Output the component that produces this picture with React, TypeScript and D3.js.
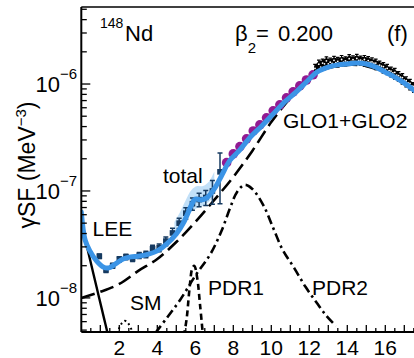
import React from 'react';
import * as d3 from 'd3';

// ---------- data ----------
// total model (blue)
const totalE = [0, 0.2, 0.45, 0.8, 1.15, 1.45, 1.8, 2.2, 2.6, 3.0, 3.5, 4.0, 4.5, 5.0, 5.4, 5.8, 6.0, 6.3, 6.6, 7.0, 7.4, 7.8, 8.3, 8.9, 9.5, 10.1, 10.7, 11.3, 11.9, 12.4, 13.0, 13.5, 14.0, 14.5, 15.0, 15.5, 16.0, 16.5, 17.0, 17.5, 18.0];
const totalV = [6.37e-8, 3.48e-8, 2.75e-8, 2.22e-8, 1.95e-8, 1.91e-8, 2.08e-8, 2.31e-8, 2.42e-8, 2.45e-8, 2.55e-8, 2.75e-8, 3.2e-8, 3.96e-8, 5.13e-8, 7.4e-8, 8.41e-8, 8.24e-8, 8.61e-8, 1.045e-7, 1.41e-7, 1.91e-7, 2.37e-7, 3.2e-7, 4.05e-7, 5.25e-7, 6.79e-7, 8.41e-7, 1.067e-6, 1.294e-6, 1.44e-6, 1.51e-6, 1.54e-6, 1.57e-6, 1.54e-6, 1.44e-6, 1.29e-6, 1.16e-6, 1.02e-6, 8.8e-7, 7.4e-7];

// GLO1+GLO2 (long dash)
const gloE = [0, 1, 2, 3, 4, 5, 6, 7, 8, 9, 10, 11, 12, 13, 14, 15, 16, 17, 18];
const gloV = [1.0e-8, 1.14e-8, 1.35e-8, 1.79e-8, 2.31e-8, 3.33e-8, 5.13e-8, 8.24e-8, 1.35e-7, 2.37e-7, 4.41e-7, 7.4e-7, 1.14e-6, 1.41e-6, 1.51e-6, 1.47e-6, 1.27e-6, 1.0e-6, 7.4e-7];

// LEE (solid)
const leeE = [0, 0.4, 0.8, 1.2, 1.4];
const leeV = [5.02e-8, 2.53e-8, 1.27e-8, 6.4e-9, 4.54e-9];

// PDR1 (short dash)
const pdr1E = [5.4, 5.55, 5.7, 5.85, 5.95, 6.1, 6.25, 6.4];
const pdr1V = [4.4e-9, 6.5e-9, 1.24e-8, 1.91e-8, 1.99e-8, 1.54e-8, 8.6e-9, 4.5e-9];

// PDR2 (dash-dot)
const pdr2E = [3.9, 4.5, 5.2, 6.0, 6.8, 7.4, 7.85, 8.2, 8.6, 9.0, 9.6, 10.1, 10.6, 11.2, 11.8, 12.4, 12.9, 13.4];
const pdr2V = [4.7e-9, 6.5e-9, 9.57e-9, 1.61e-8, 2.58e-8, 4.32e-8, 7.08e-8, 9.8e-8, 1.14e-7, 1.045e-7, 7.24e-8, 4.51e-8, 2.81e-8, 1.91e-8, 1.27e-8, 8.97e-9, 6.79e-9, 5.47e-9];

// SM (dotted)
const smE = [1.9, 2.0, 2.15, 2.3, 2.45, 2.6, 2.75];
const smV = [4.6e-9, 5.25e-9, 5.84e-9, 6.1e-9, 5.84e-9, 5.25e-9, 4.6e-9];

// Oslo data (squares)
const osloE = [0.95, 1.3, 1.65, 2.0, 2.35, 2.7, 3.05, 3.4, 3.75, 4.1, 4.45, 4.8, 5.15, 5.5, 5.85, 6.2, 6.55, 6.9, 7.3];
const osloV = [2.45e-8, 1.83e-8, 2.0e-8, 2.3e-8, 2.42e-8, 2.33e-8, 2.5e-8, 2.55e-8, 2.88e-8, 2.95e-8, 3.4e-8, 4.05e-8, 5.0e-8, 6.2e-8, 7.6e-8, 8.3e-8, 8.7e-8, 1.0e-7, 1.51e-7];
const osloErr = [1.2e-9, 1.0e-9, 1.1e-9, 1.3e-9, 1.4e-9, 1.4e-9, 1.6e-9, 1.8e-9, 2.2e-9, 2.5e-9, 3.2e-9, 4.2e-9, 5.5e-9, 7.5e-9, 1.0e-8, 1.2e-8, 1.4e-8, 2.5e-8, 7.5e-8];

// Oslo uncertainty band
const bandE = [4.9, 5.2, 5.5, 5.8, 6.1, 6.4, 6.7, 7.0];
const bandLo = [3.64e-8, 4.32e-8, 5.36e-8, 6.37e-8, 6.94e-8, 7.24e-8, 7.89e-8, 8.97e-8];
const bandHi = [5.13e-8, 6.37e-8, 8.24e-8, 1.02e-7, 1.11e-7, 1.11e-7, 1.21e-7, 1.51e-7];

// purple circles
const purpleE = [7.65, 8.0, 8.35, 8.7, 9.05, 9.4, 9.75, 10.1, 10.45, 10.8, 11.15, 11.5, 11.85, 12.2];
const purpleV = [1.84e-7, 2.22e-7, 2.6e-7, 3.07e-7, 3.64e-7, 4.15e-7, 4.83e-7, 5.62e-7, 6.39e-7, 7.43e-7, 8.45e-7, 9.6e-7, 1.09e-6, 1.22e-6];

// photo-absorption data (black, dense)
const gdrE = [12.3, 12.5, 12.7, 12.9, 13.1, 13.3, 13.5, 13.7, 13.9, 14.1, 14.3, 14.5, 14.7, 14.9, 15.1, 15.3, 15.5, 15.7, 15.9, 16.1, 16.3, 16.5, 16.7, 16.9, 17.1, 17.3, 17.5, 17.7, 17.9];
const gdrV = [1.37e-6, 1.49e-6, 1.56e-6, 1.6e-6, 1.58e-6, 1.63e-6, 1.6e-6, 1.65e-6, 1.63e-6, 1.68e-6, 1.66e-6, 1.7e-6, 1.66e-6, 1.65e-6, 1.63e-6, 1.59e-6, 1.53e-6, 1.49e-6, 1.42e-6, 1.37e-6, 1.3e-6, 1.25e-6, 1.18e-6, 1.12e-6, 1.05e-6, 9.9e-7, 9.3e-7, 8.7e-7, 8.2e-7];
const gdrErr = [9e-8, 1.1e-7, 8e-8, 1.2e-7, 9e-8, 1.1e-7, 1.0e-7, 1.2e-7, 9e-8, 1.2e-7, 1.0e-7, 1.1e-7, 9e-8, 1.2e-7, 1.0e-7, 9e-8, 1.1e-7, 8e-8, 1.0e-7, 9e-8, 8e-8, 9e-8, 7e-8, 8e-8, 7e-8, 7e-8, 6e-8, 7e-8, 6e-8];

const xTicks = [2, 4, 6, 8, 10, 12, 14, 16];
const yDecades = [-8, -7, -6];

const FONT = 'Liberation Sans, Arial, Helvetica, sans-serif';

export default function App() {
  const L = 81.3, R = 414, T = 7, B = 332;
  const x = d3.scaleLinear().domain([0, 18]).range([81.3, 423.3]);
  const y = d3.scaleLog().domain([4.8e-9, 5.25e-6]).range([332, 7]);

  const zip = (a: number[], b: number[]) => a.map((v, i) => [v, b[i]] as [number, number]);
  const line = d3.line<[number, number]>().x(d => x(d[0])).y(d => y(d[1])).curve(d3.curveCatmullRom.alpha(0.5));
  const area = d3.area<number>()
    .x(i => x(bandE[i]))
    .y0(i => y(bandLo[i]))
    .y1(i => y(bandHi[i]))
    .curve(d3.curveCatmullRom.alpha(0.5));
  const gdrArea = d3.area<number>()
    .x(i => x(gdrE[i]))
    .y0(i => y(gdrV[i] - gdrErr[i]))
    .y1(i => y(gdrV[i] + gdrErr[i]))
    .curve(d3.curveLinear);

  const xMinor = d3.range(0.5, 18, 0.5);
  const yTicks: { v: number; major: boolean }[] = [];
  for (let k = -9; k <= -5; k++) {
    for (let m = 1; m <= 9; m++) {
      const v = m * Math.pow(10, k);
      if (v >= 4.8e-9 && v <= 5.25e-6) yTicks.push({ v, major: m === 1 });
    }
  }

  const blue = '#3b94e6';
  const navy = '#163a60';
  const purple = '#921a92';

  return (
    <div style={{ position: 'absolute', left: 0, top: 0 }}>
      <svg width={414} height={358} style={{ display: 'block', background: '#fff' }} fontFamily={FONT}>
        <defs>
          <clipPath id="plotclip">
            <rect x={L} y={T} width={R - L} height={B - T} />
          </clipPath>
        </defs>
        <g clipPath="url(#plotclip)">
          {/* band */}
          <path d={area(d3.range(bandE.length)) || ''} fill="#b3d8f6" opacity={0.8} />
          {/* models */}
          <path d={line(zip(gloE, gloV)) || ''} fill="none" stroke="#000" strokeWidth={2.6} strokeDasharray="14,6" />
          <path d={line(zip(leeE, leeV)) || ''} fill="none" stroke="#000" strokeWidth={2.4} />
          <path d={line(zip(pdr1E, pdr1V)) || ''} fill="none" stroke="#000" strokeWidth={2.6} strokeDasharray="6,4" />
          <path d={line(zip(pdr2E, pdr2V)) || ''} fill="none" stroke="#000" strokeWidth={2.6} strokeDasharray="9,4,2.5,4" />
          <path d={line(zip(smE, smV)) || ''} fill="none" stroke="#000" strokeWidth={2} strokeDasharray="2,3" />
          {/* oslo data */}
          {osloE.map((e, i) => {
            const cx = x(e);
            const y1 = y(osloV[i] + osloErr[i]);
            const y0 = y(Math.max(osloV[i] - osloErr[i], 1e-12));
            return (
              <g key={'o' + i}>
                <line x1={cx} x2={cx} y1={y0} y2={y1} stroke={navy} strokeWidth={1.5} />
                <line x1={cx - 2.5} x2={cx + 2.5} y1={y0} y2={y0} stroke={navy} strokeWidth={1.5} />
                <line x1={cx - 2.5} x2={cx + 2.5} y1={y1} y2={y1} stroke={navy} strokeWidth={1.5} />
                <rect x={cx - 2.8} y={y(osloV[i]) - 2.8} width={5.6} height={5.6} fill={navy} />
              </g>
            );
          })}
          {/* purple circles */}
          {purpleE.map((e, i) => (
            <circle key={'p' + i} cx={x(e)} cy={y(purpleV[i])} r={4.8} fill={purple} />
          ))}
          {/* photo-absorption data */}
          <path d={gdrArea(d3.range(gdrE.length)) || ''} fill="#000" stroke="#000" strokeWidth={1.6} strokeLinejoin="miter" />
          {gdrE.map((e, i) => {
            const cx = x(e);
            const y1 = y(gdrV[i] + gdrErr[i]);
            const y0 = y(gdrV[i] - gdrErr[i]);
            return (
              <g key={'g' + i}>
                <line x1={cx} x2={cx} y1={y0 + 2} y2={y1 - 2} stroke="#000" strokeWidth={1.2} />
                <line x1={cx - 1.8} x2={cx + 1.8} y1={y1 - 2} y2={y1 - 2} stroke="#000" strokeWidth={1.2} />
                <line x1={cx - 1.8} x2={cx + 1.8} y1={y0 + 2} y2={y0 + 2} stroke="#000" strokeWidth={1.2} />
                <circle cx={cx} cy={y1 + 2} r={0.9} fill="#fff" />
                <circle cx={cx + 1.9} cy={y0 - 2} r={0.9} fill="#fff" />
              </g>
            );
          })}
          {/* total */}
          <path d={line(zip(totalE, totalV)) || ''} fill="none" stroke={blue} strokeWidth={5} strokeLinejoin="round" strokeLinecap="round" />
        </g>

        {/* frame */}
        <line x1={L} x2={L} y1={T} y2={B} stroke="#000" strokeWidth={2} />
        <line x1={L} x2={R} y1={B} y2={B} stroke="#000" strokeWidth={2.2} />
        <line x1={L} x2={R} y1={T} y2={T} stroke="#000" strokeWidth={1.6} />

        {/* x ticks */}
        {xMinor.map((t, i) => {
          const major = Math.abs(t - Math.round(t)) < 1e-6;
          return <line key={'xt' + i} x1={x(t)} x2={x(t)} y1={B} y2={B - (major ? 7 : 4)} stroke="#000" strokeWidth={1.3} />;
        })}
        {xTicks.map(t => (
          <text key={'xl' + t} x={x(t)} y={355} textAnchor="middle" fontSize={21}>{t}</text>
        ))}

        {/* y ticks */}
        {yTicks.map((t, i) => (
          <line key={'yt' + i} x1={L} x2={L + (t.major ? 9 : 5.5)} y1={y(t.v)} y2={y(t.v)} stroke="#000" strokeWidth={1.3} />
        ))}
        {yDecades.map(k => (
          <text key={'yl' + k} x={77} y={y(Math.pow(10, k)) + 8} textAnchor="end" fontSize={22}>
            10<tspan dy={-13} fontSize={15}>{'\u2212' + Math.abs(k)}</tspan>
          </text>
        ))}

        {/* axis title */}
        <text transform="translate(35,165) rotate(-90)" textAnchor="middle" fontSize={23}>
          γSF (MeV<tspan dy={-9} fontSize={15}>{'\u22123'}</tspan><tspan dy={9}>)</tspan>
        </text>

        {/* annotations */}
        <text x={100} y={28} fontSize={14}>148</text>
        <text x={125} y={41} fontSize={22}>Nd</text>
        <text x={235} y={41} fontSize={22}>
          β<tspan dy={12} fontSize={15}>2</tspan><tspan dy={-12}>= </tspan>
        </text>
        <text x={278} y={41} fontSize={22}>0.200</text>
        <text x={387} y={41} fontSize={22}>(f)</text>
        <text x={283} y={128} fontSize={21}>GLO1+GLO2</text>
        <text x={163} y={183} fontSize={21}>total</text>
        <text x={92.5} y={236} fontSize={21}>LEE</text>
        <text x={130} y={310} fontSize={21}>SM</text>
        <text x={208} y={295} fontSize={21}>PDR1</text>
        <text x={312} y={295} fontSize={21}>PDR2</text>
      </svg>
    </div>
  );
}
